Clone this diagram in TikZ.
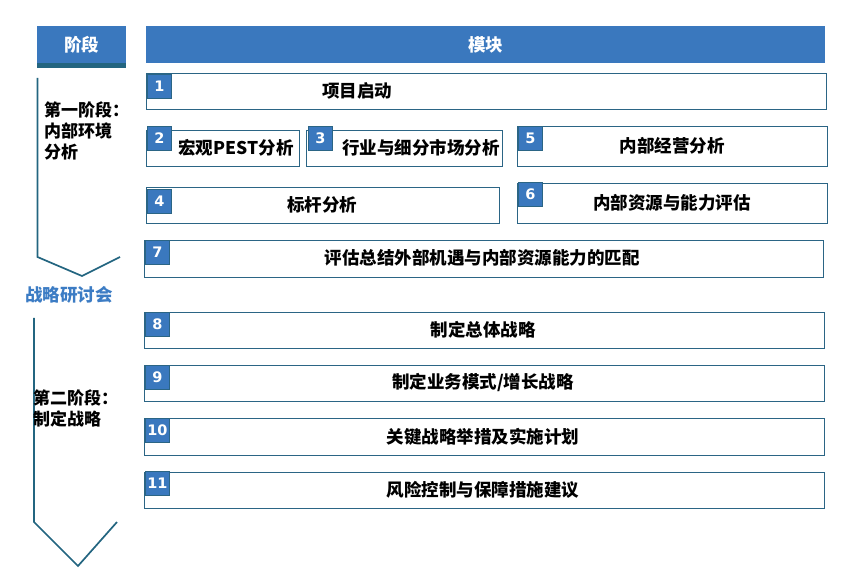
\documentclass[tikz,border=0pt]{standalone}
\usepackage{fontspec}
\setmainfont{Noto Sans CJK SC}
\newfontfamily\numfont{DejaVu Sans}
\definecolor{hblue}{HTML}{3A78BE}
\definecolor{strip}{HTML}{236580}
\definecolor{bordc}{HTML}{2B6585}
\definecolor{lblue}{HTML}{3C7CC4}
\tikzset{
  box/.style={draw=bordc, line width=1.2pt, fill=white, inner sep=0pt, anchor=north west},
  badge/.style={draw=bordc, fill=hblue, line width=0.9pt, minimum size=24pt, inner sep=0pt, anchor=north west, text=white, font=\numfont\bfseries\fontsize{14.5}{14.5}\selectfont},
  txt/.style={inner sep=0pt, font=\bfseries\fontsize{17.5}{21}\selectfont, text=black},
  head/.style={fill=hblue, inner sep=0pt, anchor=north west, text=white, font=\bfseries\fontsize{17.5}{21}\selectfont},
  stage/.style={inner sep=0pt, align=left, anchor=west, font=\bfseries\fontsize{17}{21}\selectfont, text=black},
  chev/.style={draw=strip, line width=1.7pt, line join=miter}
}
\newcommand{\mkbox}[5]{%
  \node[box, minimum width=#4-#2, minimum height=#5-#3] (#1) at (#2,#3) {};}
\begin{document}
\begin{tikzpicture}[x=1pt,y=-1pt]
\useasboundingbox (0,0) rectangle (841,585);
% headers
\fill[strip] (37,62) rectangle (126,68);
\node[head, minimum width=89pt, minimum height=37pt] (h1) at (37,26) {阶段};
\node[head, minimum width=679pt, minimum height=37pt] (h2) at (146,26) {模块};
% boxes
\mkbox{r1}{146}{73}{826}{109}
\mkbox{r2}{146}{130}{299}{166}
\mkbox{r3}{306}{130}{502}{166}
\mkbox{r5}{517}{126}{827}{166}
\mkbox{r4}{146}{187}{499}{223}
\mkbox{r6}{517}{183}{827}{223}
\mkbox{r7}{144}{240}{823}{277}
\mkbox{r8}{144}{312}{824}{348}
\mkbox{r9}{144}{365}{824}{401}
\mkbox{r10}{144}{418}{824}{455}
\mkbox{r11}{144}{472}{824}{508}
% badges
\node[badge] (b1) at (147,74) {1};
\node[badge] (b2) at (147,126) {2};
\node[badge] (b3) at (308,126) {3};
\node[badge] (b5) at (518,126) {5};
\node[badge] (b4) at (147,189) {4};
\node[badge] (b6) at (518,182) {6};
\node[badge] (b7) at (145,240) {7};
\node[badge] (b8) at (145,312) {8};
\node[badge] (b9) at (145,365) {9};
\node[badge] (b10) at (145,418) {10};
\node[badge] (b11) at (145,471) {11};
% texts
\node[txt] (t1) at (357,91) {项目启动};
\node[txt] (t2) at (236,148) {宏观PEST分析};
\node[txt] (t3) at (421,148) {行业与细分市场分析};
\node[txt] (t5) at (672,146) {内部经营分析};
\node[txt] (t4) at (322,205) {标杆分析};
\node[txt] (t6) at (672,203) {内部资源与能力评估};
\node[txt] (t7) at (482,258) {评估总结外部机遇与内部资源能力的匹配};
\node[txt] (t8) at (483,330) {制定总体战略};
\node[txt] (t9) at (483,383) {制定业务模式/增长战略};
\node[txt] (t10) at (483,437) {关键战略举措及实施计划};
\node[txt] (t11) at (483,490) {风险控制与保障措施建议};
% stage chevrons
\coordinate (c1a) at (37.5,78);
\coordinate (c1b) at (37.5,257);
\coordinate (c1c) at (82,276);
\coordinate (c1d) at (120,257);
\draw[chev] (c1a) -- (c1b) -- (c1c) -- (c1d);
\coordinate (c2a) at (34,318);
\coordinate (c2b) at (34,522);
\coordinate (c2c) at (78,566);
\coordinate (c2d) at (117,522);
\draw[chev] (c2a) -- (c2b) -- (c2c) -- (c2d);
% stage labels
\node[stage] (s1) at (44,131) {第一阶段：\\内部环境\\分析};
\node[stage] (s2) at (33,408) {第二阶段：\\制定战略};
\node[txt, text=lblue] (m) at (69,295) {战略研讨会};
\end{tikzpicture}
\end{document}
